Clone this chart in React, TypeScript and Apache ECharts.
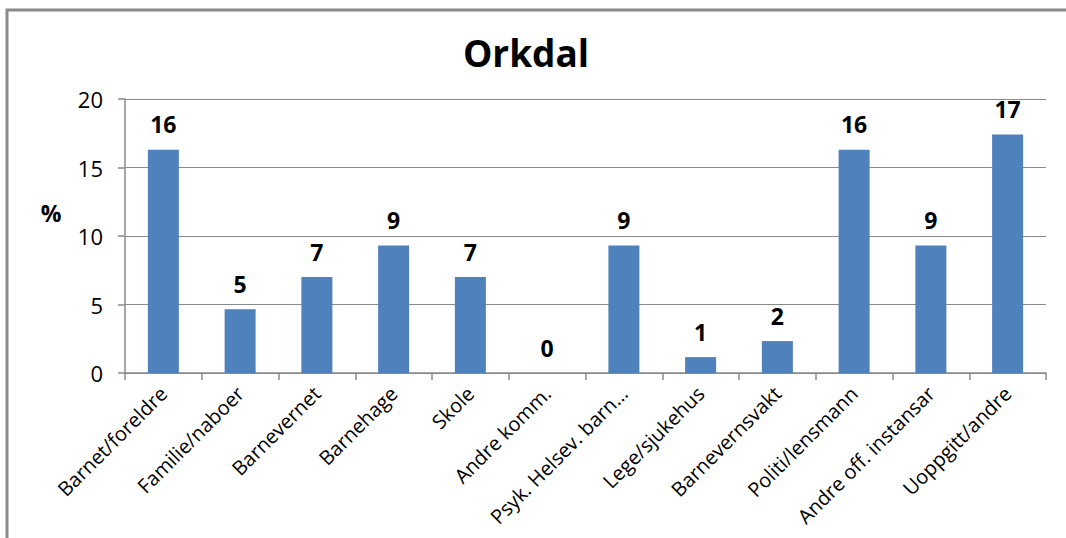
import React, { useEffect, useRef } from "react";
import * as echarts from "echarts";

const categories = [
  "Barnet/foreldre",
  "Familie/naboer",
  "Barnevernet",
  "Barnehage",
  "Skole",
  "Andre komm.",
  "Psyk. Helsev. barn…",
  "Lege/sjukehus",
  "Barnevernsvakt",
  "Politi/lensmann",
  "Andre off. instansar",
  "Uoppgitt/andre",
];
const values = [16.3, 4.65, 7.0, 9.3, 7.0, 0, 9.3, 1.16, 2.33, 16.3, 9.3, 17.4];
const yTicks = [0, 5, 10, 15, 20];
const title = "Orkdal";
const yName = "%";

const FONT = "'Open Sans', sans-serif";

export default function App() {
  const ref = useRef<HTMLDivElement>(null);
  useEffect(() => {
    if (!ref.current) return;
    const chart = echarts.init(ref.current, undefined, { renderer: "svg" });
    chart.setOption({
      animation: false,
      backgroundColor: "#ffffff",
      title: {
        text: title,
        left: 521,
        top: 29,
        textAlign: "center",
        textStyle: { fontFamily: FONT, fontSize: 37, fontWeight: "bold", color: "#000" },
      },
      graphic: [
        {
          type: "polyline",
          shape: { points: [[7, 700], [7, 10], [1300, 10]] },
          style: { fill: "none", stroke: "#8a8a8a", lineWidth: 3 },
          silent: true,
        },
        {
          type: "text",
          x: 51,
          y: 213,
          style: {
            text: yName,
            fontFamily: FONT,
            fontSize: 23,
            fontWeight: "bold",
            fill: "#000",
            align: "center",
            verticalAlign: "middle",
          },
        },
      ],
      grid: { left: 125, right: 20, top: 99, bottom: 165, containLabel: false },
      xAxis: {
        type: "category",
        data: categories,
        axisLine: { lineStyle: { color: "#8a8a8a", width: 1.5 } },
        axisTick: { show: true, length: 7, alignWithLabel: false, lineStyle: { color: "#8a8a8a", width: 1.5 } },
        axisLabel: {
          rotate: 45,
          interval: 0,
          margin: 17,
          fontFamily: FONT,
          fontSize: 20,
          color: "#000",
        },
      },
      yAxis: {
        type: "value",
        min: yTicks[0],
        max: yTicks[yTicks.length - 1],
        interval: 5,
        axisLine: { show: true, lineStyle: { color: "#8a8a8a", width: 1.5 } },
        axisTick: { show: true, length: 7, inside: false, lineStyle: { color: "#8a8a8a", width: 1.5 } },
        splitLine: { show: true, lineStyle: { color: "#8a8a8a", width: 1 } },
        axisLabel: { margin: 22, fontFamily: FONT, fontSize: 22, color: "#000" },
      },
      series: [
        {
          type: "bar",
          data: values,
          barWidth: 31,
          itemStyle: { color: "#4f81bd" },
          label: {
            show: true,
            position: "top",
            distance: 14,
            fontFamily: FONT,
            fontSize: 23,
            fontWeight: "bold",
            color: "#000",
            formatter: (p: any) => String(Math.round(p.value)),
          },
        },
      ],
    });
    return () => chart.dispose();
  }, []);
  return (
    <div
      ref={ref}
      style={{ position: "fixed", left: 0, top: 0, width: 1066, height: 538 }}
    />
  );
}
